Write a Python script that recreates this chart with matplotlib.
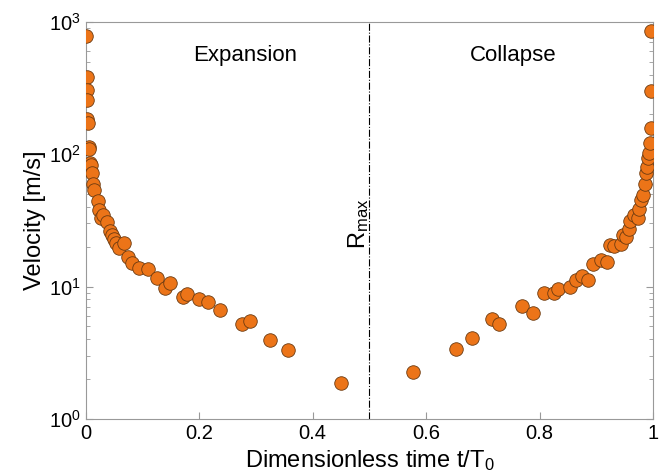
import numpy as np
import matplotlib
matplotlib.use("Agg")
import matplotlib.pyplot as plt

plt.rcParams["font.family"] = ["Liberation Sans", "DejaVu Sans"]
plt.rcParams["mathtext.fontset"] = "custom"
plt.rcParams["mathtext.rm"] = "Liberation Sans"
plt.rcParams["mathtext.it"] = "Liberation Sans"

# expansion phase (t/T0, velocity m/s)
t_exp = [0.001, 0.002, 0.002, 0.003, 0.003, 0.004, 0.005, 0.006, 0.008, 0.010,
         0.011, 0.013, 0.015, 0.021, 0.024, 0.027, 0.030, 0.037, 0.043, 0.046,
         0.050, 0.053, 0.058, 0.068, 0.074, 0.082, 0.093, 0.110, 0.125, 0.139,
         0.148, 0.172, 0.179, 0.200, 0.215, 0.236, 0.276, 0.290, 0.325, 0.356,
         0.450]
v_exp = [788, 386, 306, 257, 186, 173, 114, 109, 86, 83,
         72, 60, 54, 44, 38, 33, 35, 31, 26.4, 24.4,
         22.8, 21.2, 19.6, 21.2, 16.7, 15.0, 13.8, 13.5, 11.6, 9.8,
         10.6, 8.4, 8.8, 8.0, 7.7, 6.65, 5.2, 5.46, 3.95, 3.32,
         1.87]

# collapse phase
t_col = [0.576, 0.652, 0.681, 0.716, 0.728, 0.769, 0.789, 0.807, 0.825, 0.833,
         0.854, 0.864, 0.875, 0.886, 0.894, 0.908, 0.918, 0.925, 0.931, 0.943,
         0.947, 0.952, 0.957, 0.960, 0.966, 0.973, 0.976, 0.979, 0.983, 0.985,
         0.988, 0.990, 0.992, 0.993, 0.994, 0.996, 0.997, 0.997]
v_col = [2.26, 3.36, 4.11, 5.72, 5.21, 7.13, 6.28, 8.9, 8.9, 9.6,
         9.98, 11.3, 12.0, 11.2, 14.8, 15.9, 15.3, 20.7, 20.3, 21.0,
         24.7, 23.6, 27.1, 31.5, 34.6, 33.0, 38.8, 45.2, 49.6, 59.7,
         72.6, 80.6, 94, 102, 122, 157, 303, 859]

t_all = t_exp + t_col
v_all = v_exp + v_col

fig = plt.figure(figsize=(6.65, 4.76), dpi=100)
ax = fig.add_axes([0.129, 0.120, 0.853, 0.834])

ax.scatter(t_all, v_all, s=95, color="#EC7418", edgecolors="#6b3a10",
           linewidths=0.6, zorder=3)
ax.axvline(0.5, color="black", linestyle="-.", linewidth=0.8)

ax.set_yscale("log")
ax.set_xlim(0, 1)
ax.set_ylim(1, 1000)
ax.set_xticks([0, 0.2, 0.4, 0.6, 0.8, 1])
ax.set_xticklabels(["0", "0.2", "0.4", "0.6", "0.8", "1"])
ax.set_yticks([1, 10, 100, 1000])
ax.set_yticklabels(["$10^0$", "$10^1$", "$10^2$", "$10^3$"])

for s in ax.spines.values():
    s.set_color("#999999")
ax.tick_params(which="both", direction="in", color="#999999", right=True, top=False)
ax.tick_params(which="major", length=5, labelsize=14.5)
ax.tick_params(which="minor", length=3)

ax.set_xlabel("Dimensionless time t/T$_\\mathregular{0}$", fontsize=17, labelpad=4)
ax.set_ylabel("Velocity [m/s]", fontsize=17, labelpad=2)

ax.text(0.281, 560, "Expansion", fontsize=16, ha="center", va="center")
ax.text(0.753, 560, "Collapse", fontsize=16, ha="center", va="center")
ax.text(0.481, 30, "R$_{max}$", fontsize=17, rotation=90, ha="center", va="center")

fig.savefig("out.png", dpi=100)
